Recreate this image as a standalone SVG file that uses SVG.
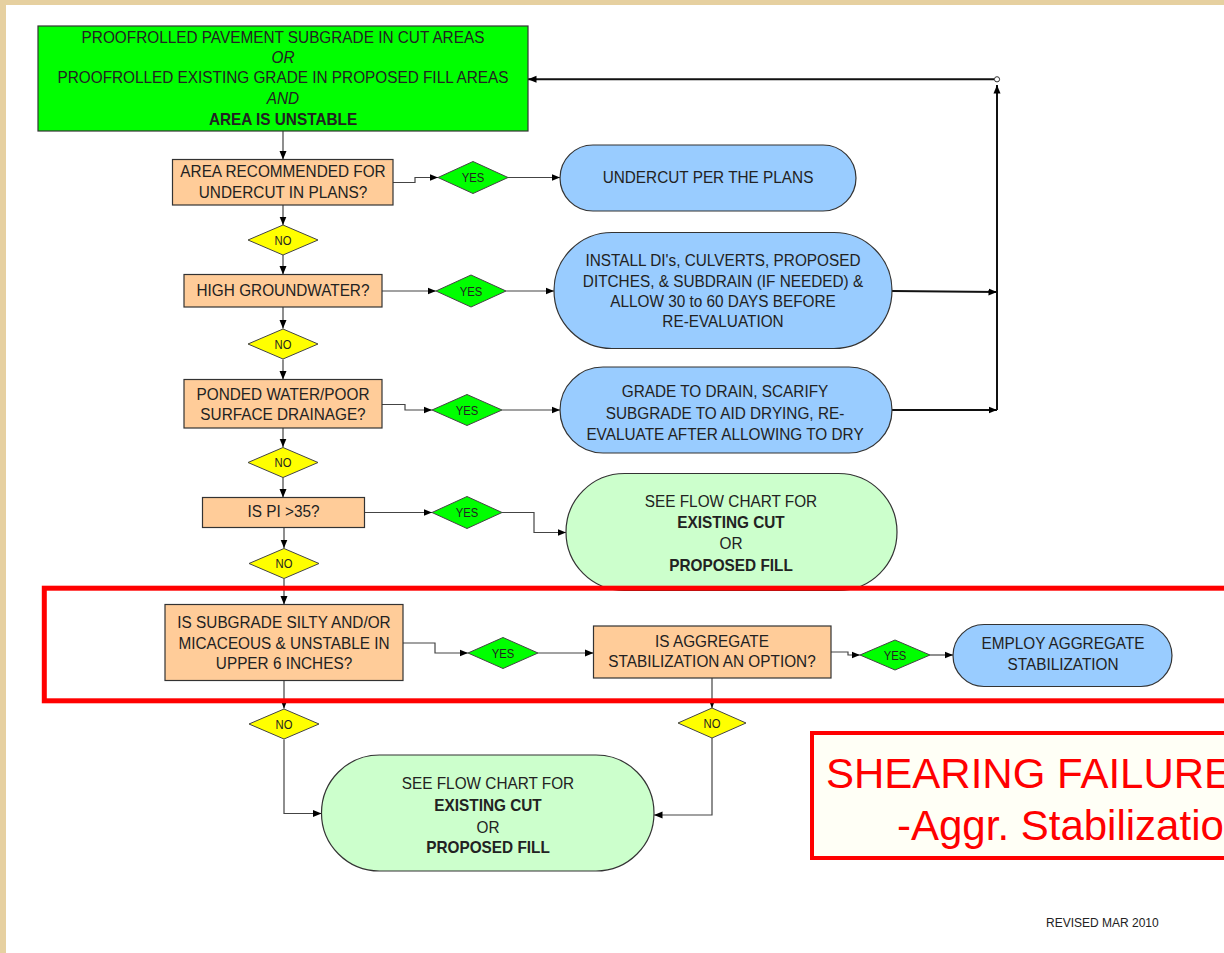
<svg xmlns="http://www.w3.org/2000/svg" width="1224" height="953" viewBox="0 0 1224 953">
  <style>
    .t { font-family: "Liberation Sans", Arial, sans-serif; font-size: 16.5px; fill: #222; text-anchor: middle; }
    .b { font-weight: bold; }
    .i { font-style: italic; }
    .lbl { font-family: "Liberation Sans", Arial, sans-serif; font-size: 12.5px; fill: #222; text-anchor: middle; }
    .box { stroke: #333; stroke-width: 1.2; }
    .start { fill: #00ff00; }
    .q { fill: #ffcc99; }
    .act { fill: #99ccff; }
    .ref { fill: #ccffcc; }
    .yes { fill: #00ff00; stroke: #444; stroke-width: 1; }
    .no { fill: #ffff00; stroke: #444; stroke-width: 1; }
    .c { fill: none; stroke: #444; stroke-width: 1.2; }
    .thick { fill: none; stroke: #111; stroke-width: 2; }
    .note { font-family: "Liberation Sans", Arial, sans-serif; font-size: 42px; fill: #ff0000; }
  </style>
  <defs>
    <marker id="arr" markerUnits="userSpaceOnUse" markerWidth="9" markerHeight="8" refX="8.5" refY="4" orient="auto">
      <path d="M0,0.5 L8.5,4 L0,7.5 z" fill="#000"/>
    </marker>
  </defs>

  <!-- page backdrop and white sheet -->
  <rect x="0" y="0" width="1224" height="953" fill="#e6d0a0"/>
  <rect x="6" y="5" width="1218" height="948" fill="#ffffff"/>

  <!-- connectors -->
  <g id="connectors">
    <path class="c" d="M283,131 V159.5" marker-end="url(#arr)"/>
    <path class="c" d="M393,182.5 H415 V177.5 H438" marker-end="url(#arr)"/>
    <path class="c" d="M508,177.5 H560" marker-end="url(#arr)"/>
    <path class="c" d="M283,205 V225" marker-end="url(#arr)"/>
    <path class="c" d="M283,255 V274.5" marker-end="url(#arr)"/>
    <path class="c" d="M382,291 H436" marker-end="url(#arr)"/>
    <path class="c" d="M506,291 H554" marker-end="url(#arr)"/>
    <path class="c" d="M283,307 V328.5" marker-end="url(#arr)"/>
    <path class="c" d="M283,359.5 V379.5" marker-end="url(#arr)"/>
    <path class="c" d="M382,404.5 H405 V410 H432" marker-end="url(#arr)"/>
    <path class="c" d="M502,410 H560" marker-end="url(#arr)"/>
    <path class="c" d="M283,428 V447" marker-end="url(#arr)"/>
    <path class="c" d="M283,477.5 V497.5" marker-end="url(#arr)"/>
    <path class="c" d="M365,512.5 H432" marker-end="url(#arr)"/>
    <path class="c" d="M502,512.5 H534 V532.5 H566" marker-end="url(#arr)"/>
    <path class="c" d="M284,527.5 V548" marker-end="url(#arr)"/>
    <path class="c" d="M284,579 V604.5" marker-end="url(#arr)"/>
    <path class="c" d="M403,643 H435 V653 H468" marker-end="url(#arr)"/>
    <path class="c" d="M538,653 H593.5" marker-end="url(#arr)"/>
    <path class="c" d="M831,652 H848 V655 H860" marker-end="url(#arr)"/>
    <path class="c" d="M930,655 H953" marker-end="url(#arr)"/>
    <path class="c" d="M284,680.5 V708.5" marker-end="url(#arr)"/>
    <path class="c" d="M284,739.5 V813.5 H321.5" marker-end="url(#arr)"/>
    <path class="c" d="M712,678 V708" marker-end="url(#arr)"/>
    <path class="c" d="M712,738 V815 H654" marker-end="url(#arr)"/>
    <!-- return loop to the start box -->
    <path class="thick" d="M892,291 L997,292" marker-end="url(#arr)"/>
    <path class="thick" d="M892,410 H997" marker-end="url(#arr)"/>
    <path class="thick" d="M997,410 V85" marker-end="url(#arr)"/>
    <path class="thick" d="M994.5,79.3 H528" stroke-width="1.8" marker-end="url(#arr)"/>
    <circle cx="997" cy="79.3" r="2.6" fill="#fff" stroke="#333" stroke-width="1"/>
  </g>

  <!-- start -->
  <g id="start">
    <rect class="box start" x="38" y="26" width="490" height="105"/>
    <text class="t" transform="translate(283 43.3) scale(0.93 1)">PROOFROLLED PAVEMENT SUBGRADE IN CUT AREAS</text>
    <text class="t i" transform="translate(283 63.3) scale(0.93 1)">OR</text>
    <text class="t" transform="translate(283 83.3) scale(0.93 1)">PROOFROLLED EXISTING GRADE IN PROPOSED FILL AREAS</text>
    <text class="t i" transform="translate(283 104) scale(0.93 1)">AND</text>
    <text class="t b" transform="translate(283 125) scale(0.93 1)">AREA IS UNSTABLE</text>
  </g>

  <!-- decisions -->
  <g id="q-undercut">
    <rect class="box q" x="172.5" y="159.5" width="220.5" height="45.5"/>
    <text class="t" transform="translate(283 177) scale(0.93 1)">AREA RECOMMENDED FOR</text>
    <text class="t" transform="translate(283 197.5) scale(0.93 1)">UNDERCUT IN PLANS?</text>
  </g>
  <g id="q-groundwater">
    <rect class="box q" x="184" y="274.5" width="198" height="32.5"/>
    <text class="t" transform="translate(283 295.7) scale(0.93 1)">HIGH GROUNDWATER?</text>
  </g>
  <g id="q-ponded">
    <rect class="box q" x="184" y="379.5" width="198" height="48.5"/>
    <text class="t" transform="translate(283 400) scale(0.93 1)">PONDED WATER/POOR</text>
    <text class="t" transform="translate(283 419.5) scale(0.93 1)">SURFACE DRAINAGE?</text>
  </g>
  <g id="q-pi">
    <rect class="box q" x="202.5" y="497.5" width="162" height="30"/>
    <text class="t" transform="translate(283.5 517) scale(0.93 1)">IS PI &gt;35?</text>
  </g>
  <g id="q-silty">
    <rect class="box q" x="165" y="604.5" width="238" height="76"/>
    <text class="t" transform="translate(284 628) scale(0.93 1)">IS SUBGRADE SILTY AND/OR</text>
    <text class="t" transform="translate(284 648.5) scale(0.93 1)">MICACEOUS &amp; UNSTABLE IN</text>
    <text class="t" transform="translate(284 669) scale(0.93 1)">UPPER 6 INCHES?</text>
  </g>
  <g id="q-aggregate">
    <rect class="box q" x="593.5" y="626" width="237.5" height="52"/>
    <text class="t" transform="translate(712 646.5) scale(0.93 1)">IS AGGREGATE</text>
    <text class="t" transform="translate(712 667) scale(0.93 1)">STABILIZATION AN OPTION?</text>
  </g>

  <!-- actions -->
  <g id="a-undercut">
    <rect class="box act" x="560" y="145" width="296" height="66" rx="33" ry="33"/>
    <text class="t" transform="translate(708 183.3) scale(0.93 1)">UNDERCUT PER THE PLANS</text>
  </g>
  <g id="a-drainage">
    <rect class="box act" x="554" y="232.5" width="338" height="116" rx="58" ry="58"/>
    <text class="t" transform="translate(723 266) scale(0.93 1)">INSTALL DI's, CULVERTS, PROPOSED</text>
    <text class="t" transform="translate(723 286.5) scale(0.93 1)">DITCHES, &amp; SUBDRAIN (IF NEEDED) &amp;</text>
    <text class="t" transform="translate(723 306.7) scale(0.93 1)">ALLOW 30 to 60 DAYS BEFORE</text>
    <text class="t" transform="translate(723 327.3) scale(0.93 1)">RE-EVALUATION</text>
  </g>
  <g id="a-grade">
    <rect class="box act" x="560" y="367" width="332" height="86" rx="43" ry="43"/>
    <text class="t" transform="translate(725 397.3) scale(0.93 1)">GRADE TO DRAIN, SCARIFY</text>
    <text class="t" transform="translate(725 419) scale(0.93 1)">SUBGRADE TO AID DRYING, RE-</text>
    <text class="t" transform="translate(725 440) scale(0.93 1)">EVALUATE AFTER ALLOWING TO DRY</text>
  </g>
  <g id="ref-pi">
    <rect class="box ref" x="566" y="473.5" width="331" height="117" rx="58.5" ry="58.5"/>
    <text class="t" transform="translate(731 506.7) scale(0.93 1)">SEE FLOW CHART FOR</text>
    <text class="t b" transform="translate(731 528.3) scale(0.93 1)">EXISTING CUT</text>
    <text class="t" transform="translate(731 549.3) scale(0.93 1)">OR</text>
    <text class="t b" transform="translate(731 570.7) scale(0.93 1)">PROPOSED FILL</text>
  </g>
  <g id="a-aggregate">
    <rect class="box act" x="953" y="624.5" width="219" height="62" rx="31" ry="31"/>
    <text class="t" transform="translate(1063 648.5) scale(0.93 1)">EMPLOY AGGREGATE</text>
    <text class="t" transform="translate(1063 669.5) scale(0.93 1)">STABILIZATION</text>
  </g>
  <g id="ref-bottom">
    <rect class="box ref" x="321.5" y="755" width="332.5" height="116" rx="58" ry="58"/>
    <text class="t" transform="translate(488 789) scale(0.93 1)">SEE FLOW CHART FOR</text>
    <text class="t b" transform="translate(488 810.5) scale(0.93 1)">EXISTING CUT</text>
    <text class="t" transform="translate(488 832.5) scale(0.93 1)">OR</text>
    <text class="t b" transform="translate(488 852.7) scale(0.93 1)">PROPOSED FILL</text>
  </g>

  <!-- YES / NO answers -->
  <g id="yes-1"><polygon class="yes" points="438,177.5 473,161.5 508,177.5 473,193.5"/><text class="lbl" transform="translate(473 182) scale(0.9 1)">YES</text></g>
  <g id="yes-2"><polygon class="yes" points="436,291 471,275 506,291 471,307"/><text class="lbl" transform="translate(471 295.5) scale(0.9 1)">YES</text></g>
  <g id="yes-3"><polygon class="yes" points="432,410 467,394.5 502,410 467,425.5"/><text class="lbl" transform="translate(467 414.5) scale(0.9 1)">YES</text></g>
  <g id="yes-4"><polygon class="yes" points="432,512.5 467,496.5 502,512.5 467,528.5"/><text class="lbl" transform="translate(467 517) scale(0.9 1)">YES</text></g>
  <g id="yes-5"><polygon class="yes" points="468,653 503,637.5 538,653 503,668.5"/><text class="lbl" transform="translate(503 657.5) scale(0.9 1)">YES</text></g>
  <g id="yes-6"><polygon class="yes" points="860,655 895,640 930,655 895,670"/><text class="lbl" transform="translate(895 659.5) scale(0.9 1)">YES</text></g>

  <g id="no-1"><polygon class="no" points="248,240 283,225 318,240 283,255"/><text class="lbl" transform="translate(283 244.5) scale(0.9 1)">NO</text></g>
  <g id="no-2"><polygon class="no" points="248,344 283,329 318,344 283,359"/><text class="lbl" transform="translate(283 348.5) scale(0.9 1)">NO</text></g>
  <g id="no-3"><polygon class="no" points="248,462.5 283,447.5 318,462.5 283,477.5"/><text class="lbl" transform="translate(283 467) scale(0.9 1)">NO</text></g>
  <g id="no-4"><polygon class="no" points="249,563.5 284,548.5 319,563.5 284,578.5"/><text class="lbl" transform="translate(284 568) scale(0.9 1)">NO</text></g>
  <g id="no-5"><polygon class="no" points="249,724 284,709 319,724 284,739"/><text class="lbl" transform="translate(284 728.5) scale(0.9 1)">NO</text></g>
  <g id="no-6"><polygon class="no" points="678,723 712,708 746,723 712,738"/><text class="lbl" transform="translate(712 727.5) scale(0.9 1)">NO</text></g>

  <!-- highlight frame around the silty-subgrade branch -->
  <rect id="highlight" x="44.3" y="588.2" width="1200" height="112.6" fill="none" stroke="#ff0000" stroke-width="5"/>

  <!-- callout -->
  <g id="callout">
    <rect x="812" y="733" width="430" height="125" fill="#fffff6" stroke="#ff0000" stroke-width="4"/>
    <text class="note" x="826" y="788">SHEARING FAILURE</text>
    <text class="note" x="897" y="840">-Aggr. Stabilization</text>
  </g>

  <text id="revision" x="1046" y="927" font-family="Liberation Sans, Arial, sans-serif" font-size="12" fill="#222">REVISED MAR 2010</text>
</svg>
